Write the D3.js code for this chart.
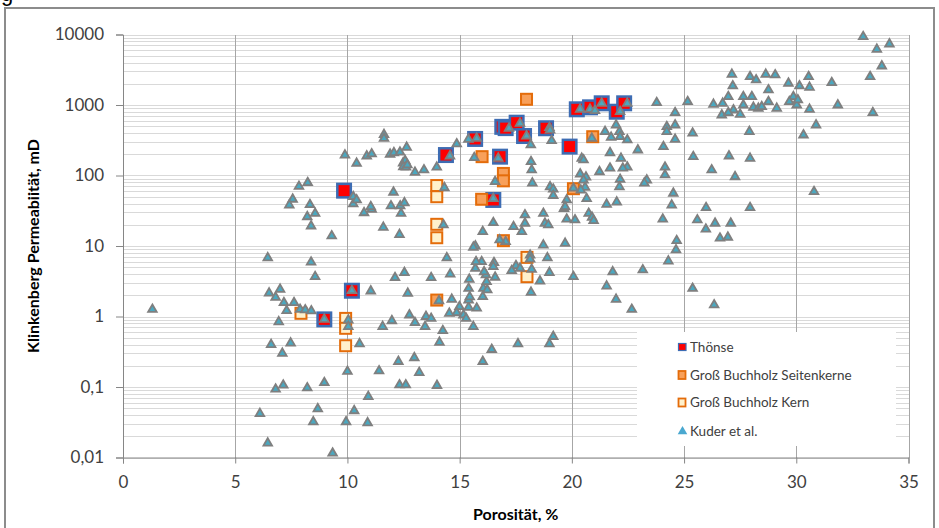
<!DOCTYPE html>
<html><head><meta charset="utf-8">
<script src="https://cdn.jsdelivr.net/npm/d3@7"></script>
<style>body{margin:0;background:#fff;} text{font-family:Lato,'Open Sans',sans-serif;}</style>
</head><body>
<script>
// ---- DATA ----
const xTicks = [0,5,10,15,20,25,30,35];
const yTicks = [0.01,0.1,1,10,100,1000,10000];
const yTickLabels = ["0,01","0,1","1","10","100","1000","10000"];
const seriesNames = ["Thönse","Groß Buchholz Seitenkerne","Groß Buchholz Kern","Kuder et al."];

const thoensePoints = [[9.85,61],[8.97,0.91],[10.2,2.32],[14.39,195],[15.69,330],[16.8,185],[16.5,45],[16.9,490],[17.05,470],[17.54,561],[17.87,363],[18.85,468],[19.9,257],[20.22,869],[20.81,927],[21.33,1057],[22.0,803],[22.33,1057]];
const seitenPoints = [[13.98,1.71],[16.0,185],[16.95,107],[16.95,84],[15.98,46],[17.98,1205],[16.95,11.9],[20.07,65],[20.93,355]];
const kernPoints = [[7.93,1.11],[9.92,0.94],[9.92,0.68],[9.92,0.385],[13.98,72],[13.98,50],[13.98,20.3],[13.98,13.1],[18.0,6.9],[18.0,3.67]];
const kuderPoints = [[1.31,1.26],[7.84,70],[8.23,79],[7.56,46],[7.41,38],[8.33,38.5],[8.56,29],[8.21,26],[8.38,19.2],[6.45,6.8],[8.38,5.9],[8.56,3.67],[6.51,2.15],[7.0,2.43],[6.8,1.87],[7.17,1.57],[7.62,1.57],[7.29,1.21],[7.89,1.26],[8.12,1.24],[8.39,1.2],[6.94,0.84],[6.6,0.4],[7.47,0.42],[7.1,0.30],[6.8,0.093],[7.14,0.106],[8.21,0.097],[8.68,0.049],[6.1,0.042],[8.48,0.032],[6.45,0.016],[9.3,13.9],[10.26,39.5],[10.74,29.6],[11.08,33],[11.6,18.4],[11.94,37],[12.35,37],[12.39,29],[12.54,41],[12.32,14.5],[10.2,2.32],[8.97,0.91],[11.04,2.3],[10.04,0.89],[10.04,0.72],[10.54,0.41],[10.0,0.166],[11.41,0.169],[10.93,0.073],[10.3,0.046],[9.94,0.032],[10.9,0.031],[9.34,0.0115],[8.97,0.115],[11.57,0.72],[11.98,0.87],[12.76,1.05],[13.01,0.82],[13.5,1.0],[13.73,0.94],[13.46,0.72],[14.25,0.63],[14.1,0.43],[12.27,0.23],[12.98,0.26],[13.2,0.16],[12.32,0.107],[12.6,0.107],[13.99,0.105],[12.12,3.55],[12.54,4.2],[12.69,2.13],[13.73,3.55],[14.43,6.8],[14.58,4.0],[14.28,19.9],[14.08,1.67],[14.65,1.75],[14.99,1.38],[14.87,1.13],[14.54,1.11],[15.17,1.05],[15.29,0.94],[15.61,0.72],[15.76,1.31],[15.4,1.35],[15.4,1.71],[15.45,1.9],[15.4,2.5],[15.43,3.37],[15.7,4.8],[15.7,10],[15.61,9.6],[16.03,16],[16.5,21.4],[16.03,1.91],[16.06,2.51],[16.23,2.38],[16.2,3.12],[16.17,3.88],[15.98,6.0],[16.09,4.3],[16.53,5.8],[16.5,5.1],[16.58,3.6],[15.73,6.0],[17.05,11.5],[16.78,12.2],[17.4,18.8],[17.77,16],[17.91,27.6],[17.91,21],[18.73,29],[18.8,21],[18.95,19.9],[19.65,34],[19.77,24],[20.14,23.4],[18.14,7.4],[18.14,6.5],[17.51,5.25],[17.69,4.83],[18.21,4.67],[17.32,4.47],[18.58,3.18],[18.18,2.2],[18.73,10.3],[18.91,6.8],[19.0,4.2],[19.7,10.9],[20.07,3.67],[17.6,0.41],[19.0,0.41],[19.17,0.52],[16.43,0.34],[16.03,0.23],
[9.89,195],[10.41,149],[10.86,189],[11.08,202],[11.63,380],[11.63,335],[11.9,200],[12.07,210],[12.34,214],[12.64,251],[12.48,150],[12.57,162],[12.49,133],[12.61,131],[12.67,141],[12.05,57.8],[10.26,50],[10.41,45],[11.04,36],[13.01,111],[13.41,120],[13.98,131],[14.57,189],[14.87,280],[14.32,67],[15.39,326],[15.76,337],[15.65,179],[16.72,175],[16.58,82],[16.5,47],[17.2,468],[17.69,550],[17.98,363],[19.0,477],[18.17,271],[18.18,157],[18.21,120],[18.24,78],[19.1,312],[19.03,69],[19.17,64],[19.17,52],[19.77,45],
[20.37,869],[20.81,869],[21.03,831],[21.33,1057],[22.15,803],[22.47,1057],[20.89,337],[19.03,441],[21.48,419],[21.75,348],[22.12,419],[22.15,355],[22.47,319],[21.97,520],[21.7,210],[22.19,175],[22.47,131],[22.27,127],[21.7,127],[21.23,113],[20.44,175],[20.52,166],[22.94,230],[23.78,1080],[24.6,778],[24.6,520],[24.23,492],[24.23,419],[24.6,326],[24.08,256],[25.16,1114],[25.38,398],[25.41,185],[26.23,120],[27.0,189],[27.27,96],[27.94,175],[27.91,419],[27.17,1862],[26.31,1023],[26.72,1057],[26.97,1313],[27.2,849],[27.5,738],[26.68,721],[26.97,778],[27.64,1313],[28.02,1313],[28.09,927],[27.64,1000],[28.31,898],[28.46,946],[28.76,1114],[28.76,1633],[29.13,898],[27.13,2723],[27.94,2518],[28.21,2264],[28.64,2723],[29.06,2669],[29.65,2033],[30.14,1862],[30.59,1782],[30.55,2518],[29.87,1313],[29.69,1114],[30.02,1000],[30.07,1178],[30.59,869],[30.88,520],[30.32,375],[31.58,2070],[31.85,1000],[33.29,2518],[33.41,778],[33.81,3575],[33.59,6166],[34.15,7330],[32.98,9310],
[20.37,105],[20.63,95],[20.52,86],[20.59,68],[20.4,62],[20.66,47],[22.15,88],[22.12,69],[23.34,86],[23.23,78],[24.15,131],[24.15,102],[24.52,56],[21.55,39],[22.0,42],[24.45,38],[19.7,36],[25.98,35],[27.94,35],[25.59,23.4],[25.97,17.3],[26.38,21],[27.08,21],[26.6,12.9],[26.95,13.3],[30.79,59],[24.67,11.9],[24.64,8.8],[24.3,6.1],[25.38,2.5],[26.34,1.46],[24.05,24],[20.75,29],[20.9,25.5],[20.97,22.9],[21.82,4.3],[21.55,2.7],[21.97,1.75],[22.67,1.26],[23.16,4.57],[20.07,66]];

// ---- CHART ----
const W = 939, H = 528;
const svg = d3.select("body").append("svg").attr("width", W).attr("height", H);
const x = d3.scaleLinear().domain([0,35]).range([123,908.5]);
const y = d3.scaleLog().domain([0.01,10000]).range([457.5,34.5]);

// clipped caption letter at top-left
svg.append("text").attr("x",1).attr("y",1).attr("font-size",22).attr("fill","#000")
  .style("font-family","'Liberation Sans',Arial,sans-serif").text("g");

// outer frame
svg.append("rect").attr("x",5).attr("y",8).attr("width",929).attr("height",530)
  .attr("fill","none").attr("stroke","#8c8c8c").attr("stroke-width",2);

const grid = svg.append("g").attr("shape-rendering","crispEdges");
// horizontal log gridlines (major + minor)
const hVals = [];
for (let e = -2; e <= 3; e++) for (let m = 1; m <= 9; m++) hVals.push(m*Math.pow(10,e));
hVals.push(10000);
grid.selectAll("line.h").data(hVals).join("line")
  .attr("x1", x(0)).attr("x2", x(35))
  .attr("y1", d => Math.round(y(d))+0.5).attr("y2", d => Math.round(y(d))+0.5)
  .attr("stroke", "#d9d9d9").attr("stroke-width", 1);
// vertical gridlines
grid.selectAll("line.v").data(xTicks.slice(1)).join("line")
  .attr("x1", d => Math.round(x(d))+0.5).attr("x2", d => Math.round(x(d))+0.5)
  .attr("y1", y(10000)).attr("y2", y(0.01))
  .attr("stroke", "#a6a6a6").attr("stroke-width", 1);

// axes
const xAxis = d3.axisBottom(x).tickValues(xTicks).tickSize(6).tickPadding(12).tickFormat(d3.format("d"));
const gx = svg.append("g").attr("transform", `translate(0,${y(0.01)})`).call(xAxis);
const yAxis = d3.axisLeft(y).tickValues(yTicks).tickSize(7).tickPadding(12).tickFormat((d,i) => yTickLabels[i]);
const gy = svg.append("g").attr("transform", `translate(${x(0)},0)`).call(yAxis);
[gx, gy].forEach(g => {
  g.select(".domain").attr("stroke", "#868686");
  g.selectAll(".tick line").attr("stroke", "#868686");
  g.selectAll(".tick text").attr("fill", "#404040").attr("font-size", 17)
    .style("font-family", "Lato,'Open Sans',sans-serif");
});

// marks
const sq = (g, data, size, fill, stroke, sw) => g.selectAll("rect").data(data).join("rect")
  .attr("x", d => x(d[0]) - size/2).attr("y", d => y(d[1]) - size/2)
  .attr("width", size).attr("height", size)
  .attr("fill", fill).attr("stroke", stroke).attr("stroke-width", sw);
sq(svg.append("g"), thoensePoints, 13.5, "#ff0000", "#3d6cb3", 2.5);
sq(svg.append("g"), seitenPoints, 11, "#f8a05a", "#e46c0a", 2);
sq(svg.append("g"), kernPoints, 11, "#fff1cc", "#e46c0a", 2);
const tri = d3.symbol().type(d3.symbolTriangle).size(32);
svg.append("g").selectAll("path").data(kuderPoints).join("path")
  .attr("d", tri).attr("transform", d => `translate(${x(d[0])},${y(d[1])})`)
  .attr("fill", "#4aa8c0").attr("stroke", "#7f7f7f").attr("stroke-width", 1.8);

// legend
const lg = svg.append("g");
lg.append("rect").attr("x", 637).attr("y", 332).attr("width", 259).attr("height", 114).attr("fill", "#fff");
const rowsY = [347, 375, 402.5, 431];
const lgItems = lg.selectAll("g.item").data(seriesNames).join("g")
  .attr("transform", (d,i) => `translate(0,${rowsY[i]})`);
lgItems.each(function(d, i) {
  const g = d3.select(this);
  if (i === 0) g.append("rect").attr("x",678.5).attr("y",-3.5).attr("width",7.5).attr("height",7).attr("fill","#ff0000").attr("stroke","#3d6cb3").attr("stroke-width",1.2);
  if (i === 1) g.append("rect").attr("x",678.5).attr("y",-4).attr("width",7).attr("height",8).attr("fill","#f8a05a").attr("stroke","#e46c0a").attr("stroke-width",1.8);
  if (i === 2) g.append("rect").attr("x",678.5).attr("y",-4).attr("width",7).attr("height",8).attr("fill","#fff1cc").attr("stroke","#e46c0a").attr("stroke-width",1.8);
  if (i === 3) g.append("path").attr("d", d3.symbol().type(d3.symbolTriangle).size(40)).attr("transform","translate(682.5,0.5)").attr("fill","#4aa8d0");
  g.append("text").attr("x", 690).attr("y", 0).attr("dy", "0.35em").attr("font-size", 13.5).attr("fill", "#404040").text(d);
});

// axis titles
svg.append("text").attr("x", (x(0)+x(35))/2).attr("y", 520).attr("text-anchor","middle")
  .attr("font-size", 16).attr("font-weight", "bold").attr("fill", "#000").text("Porosität, %");
svg.append("text").attr("transform", `translate(39,${(y(0.01)+y(10000))/2}) rotate(-90)`)
  .attr("text-anchor","middle").attr("font-size", 16).attr("font-weight", "bold").attr("fill","#000")
  .text("Klinkenberg Permeabiität, mD");
</script>
</body></html>
